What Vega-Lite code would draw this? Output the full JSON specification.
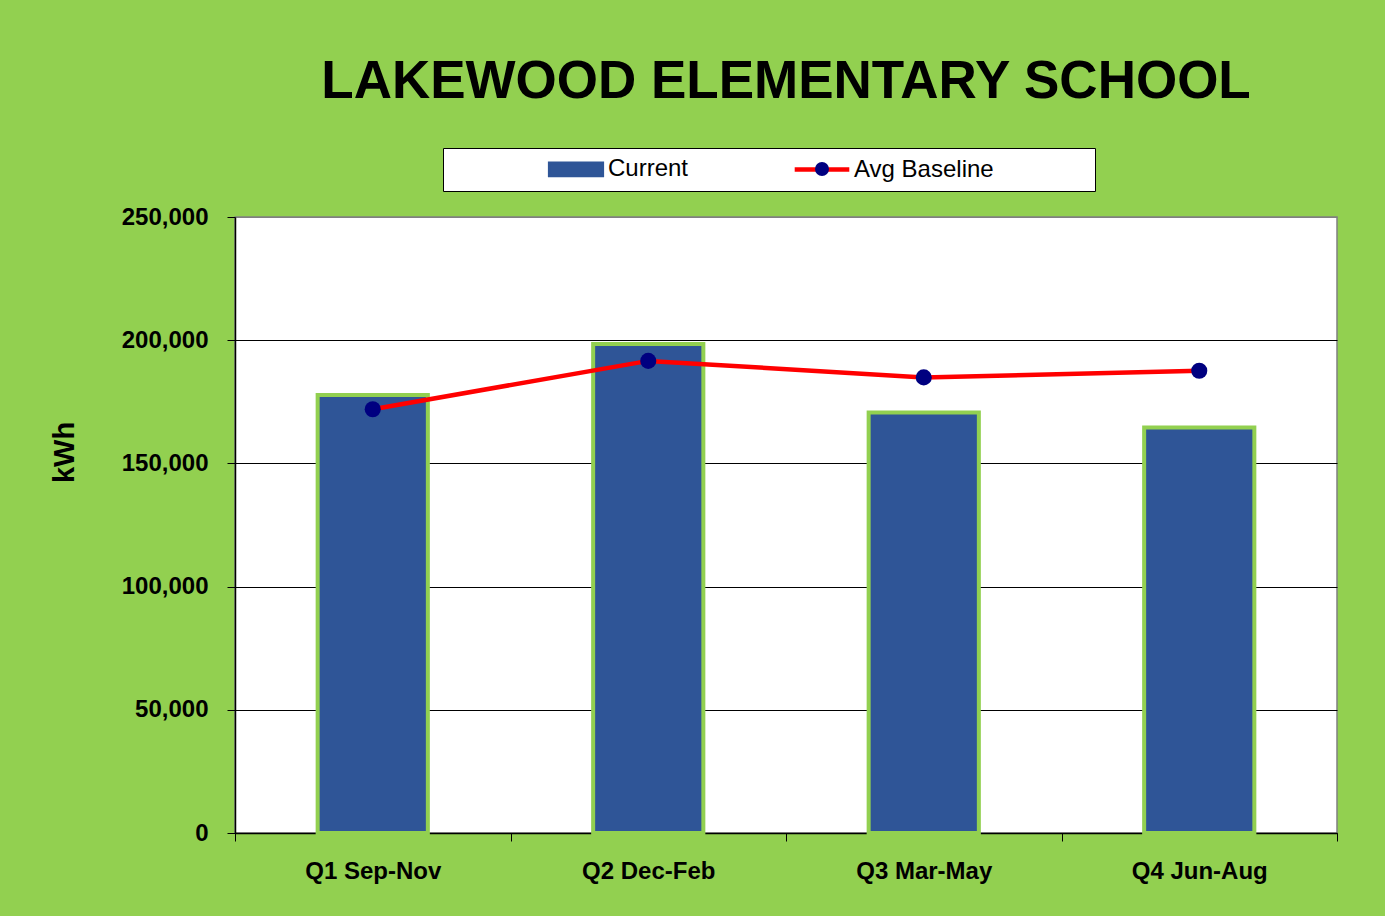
{
  "$schema": "https://vega.github.io/schema/vega-lite/v6.json",
  "width": 1102,
  "height": 616,
  "autosize": {"type": "none"},
  "padding": {"left": 235, "top": 217, "right": 48, "bottom": 83},
  "background": "#92D050",
  "title": {
    "text": "LAKEWOOD ELEMENTARY SCHOOL",
    "font": "Liberation Sans",
    "fontSize": 53,
    "fontWeight": "bold",
    "color": "black",
    "anchor": "middle",
    "frame": "group",
    "offset": 39
  },
  "config": {
    "view": {"fill": "white", "stroke": "#808080", "strokeWidth": 1.5}
  },
  "data": {
    "values": [
      {"quarter": "Q1 Sep-Nov", "series": "Current", "kwh": 177800},
      {"quarter": "Q2 Dec-Feb", "series": "Current", "kwh": 198500},
      {"quarter": "Q3 Mar-May", "series": "Current", "kwh": 170700},
      {"quarter": "Q4 Jun-Aug", "series": "Current", "kwh": 164600},
      {"quarter": "Q1 Sep-Nov", "series": "Avg Baseline", "kwh": 172000},
      {"quarter": "Q2 Dec-Feb", "series": "Avg Baseline", "kwh": 191600},
      {"quarter": "Q3 Mar-May", "series": "Avg Baseline", "kwh": 184900},
      {"quarter": "Q4 Jun-Aug", "series": "Avg Baseline", "kwh": 187600}
    ]
  },
  "encoding": {
    "x": {
      "field": "quarter",
      "type": "nominal",
      "sort": null,
      "scale": {"paddingInner": 0, "paddingOuter": 0},
      "axis": {
        "title": null,
        "labelAngle": 0,
        "labelFont": "Liberation Sans",
        "labelFontSize": 24,
        "labelFontWeight": "bold",
        "labelColor": "black",
        "labelPadding": 18,
        "tickBand": "extent",
        "tickSize": 8,
        "tickColor": "black",
        "domainColor": "black",
        "domainWidth": 1.5,
        "grid": false
      }
    },
    "y": {
      "field": "kwh",
      "type": "quantitative",
      "scale": {"domain": [0, 250000], "nice": false},
      "axis": {
        "values": [0, 50000, 100000, 150000, 200000, 250000],
        "labelExpr": "format(datum.value, ',.0f')",
        "labelFont": "Liberation Sans",
        "labelFontSize": 24,
        "labelFontWeight": "bold",
        "labelColor": "black",
        "labelPadding": 19,
        "tickSize": 8,
        "tickColor": "black",
        "domainColor": "black",
        "domainWidth": 1.5,
        "grid": true,
        "gridColor": {"condition": {"test": "datum.value === 250000", "value": "#808080"}, "value": "black"},
        "gridWidth": 1,
        "title": "kWh",
        "titleFont": "Liberation Sans",
        "titleFontSize": 29,
        "titleFontWeight": "bold",
        "titleColor": "black",
        "titleX": -171,
        "titleY": 235,
        "titleBaseline": "middle"
      }
    },
    "color": {
      "field": "series",
      "type": "nominal",
      "scale": {"domain": ["Current", "Avg Baseline"], "range": ["#2F5597", "#FF0000"]},
      "legend": {
        "title": " ",
        "titleOrient": "right",
        "titlePadding": 92,
        "orient": "none",
        "legendX": 208,
        "legendY": -69,
        "direction": "horizontal",
        "fillColor": "white",
        "strokeColor": "black",
        "padding": 9,
        "labelFont": "Liberation Sans",
        "labelFontSize": 24,
        "labelColor": "black",
        "symbolSize": 196,
        "symbolOffset": 112,
        "labelOffset": 20,
        "columnPadding": 9,
        "encode": {
          "symbols": {
            "update": {
              "shape": {"signal": "datum.value === 'Current' ? 'M-3.8,-0.9H3.8V0.9H-3.8Z' : 'M-3.9,0H3.9'"},
              "fill": {"signal": "datum.value === 'Current' ? '#2F5597' : 'transparent'"},
              "stroke": {"signal": "datum.value === 'Current' ? '#92D050' : '#FF0000'"},
              "strokeWidth": {"signal": "datum.value === 'Current' ? 3 : 4.5"},
              "opacity": {"value": 1}
            }
          }
        }
      }
    }
  },
  "layer": [
    {
      "transform": [{"filter": "datum.series === 'Current'"}],
      "mark": {"type": "bar", "stroke": "#92D050", "strokeWidth": 4, "width": {"band": 0.4}}
    },
    {
      "transform": [{"filter": "datum.series === 'Avg Baseline'"}],
      "mark": {"type": "line", "strokeWidth": 4.5}
    },
    {
      "transform": [{"filter": "datum.series === 'Avg Baseline'"}],
      "mark": {"type": "point", "filled": true, "size": 260, "opacity": 1},
      "encoding": {
        "color": {"value": "#000080"},
        "shape": {
          "datum": "Avg Baseline",
          "scale": {"domain": ["Avg Baseline"], "range": ["circle"]},
          "legend": {
            "title": null,
            "orient": "none",
            "legendX": 580,
            "legendY": -55,
            "padding": 0,
            "labelExpr": "''",
            "symbolSize": 196,
            "symbolFillColor": "#000080",
            "symbolStrokeWidth": 0,
            "symbolOpacity": 1,
            "fillColor": null,
            "strokeColor": null,
            "zindex": 5
          }
        }
      }
    }
  ]
}
